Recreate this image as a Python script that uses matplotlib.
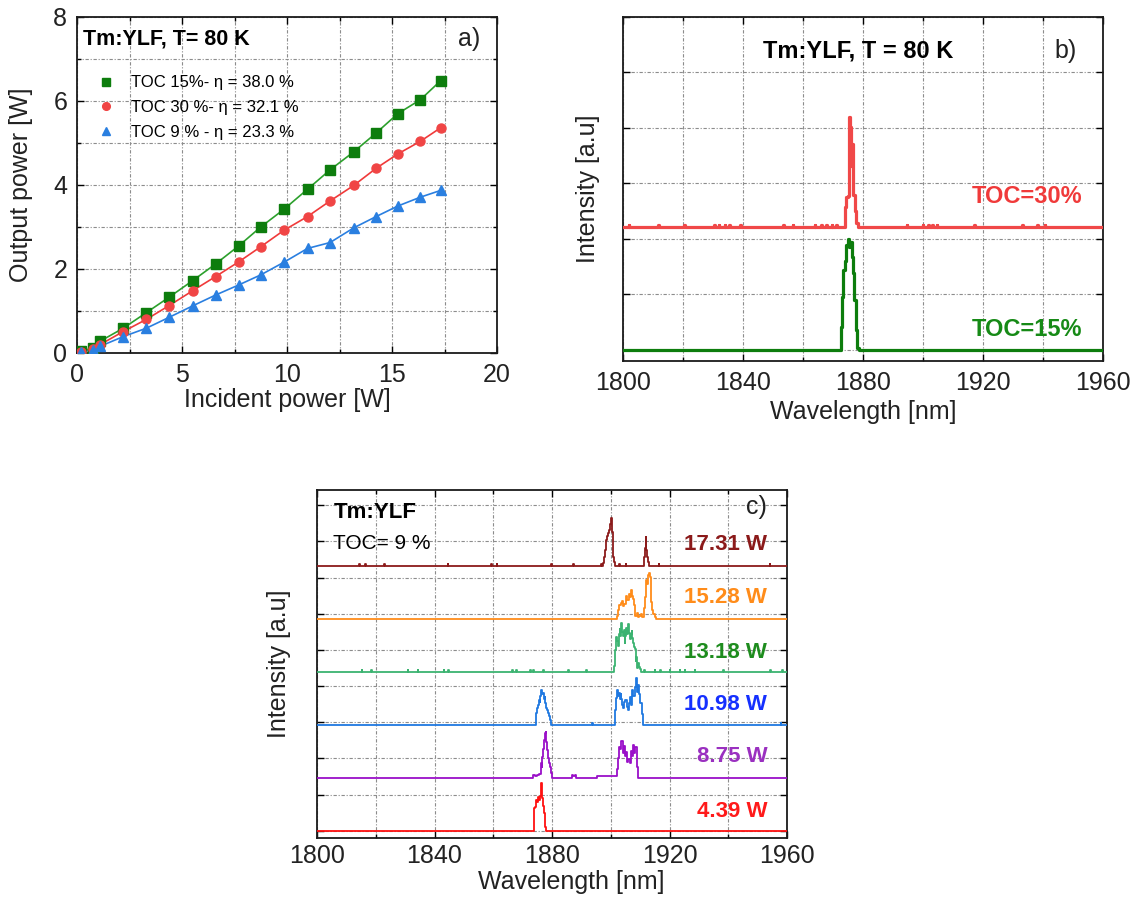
import matplotlib
matplotlib.use("Agg")
import matplotlib.pyplot as plt
from matplotlib.ticker import MultipleLocator, NullFormatter

plt.rcParams['font.family'] = ['Liberation Sans', 'DejaVu Sans']

# ---------------- a) output power vs incident power ----------------
p_incident = [0.2, 0.75, 1.1, 2.2, 3.3, 4.39, 5.5, 6.6, 7.7, 8.75, 9.85, 10.98,
              12.05, 13.18, 14.25, 15.28, 16.35, 17.31]
p_out_toc15 = [0.04, 0.12, 0.28, 0.59, 0.96, 1.33, 1.72, 2.12, 2.55, 3.00, 3.42,
               3.90, 4.36, 4.79, 5.24, 5.70, 6.03, 6.48]
p_out_toc30 = [0.02, 0.10, 0.20, 0.51, 0.80, 1.13, 1.48, 1.82, 2.17, 2.53, 2.92,
               3.25, 3.62, 3.99, 4.40, 4.74, 5.04, 5.36]
p_out_toc9 = [0.02, 0.08, 0.16, 0.39, 0.59, 0.85, 1.12, 1.38, 1.62, 1.86, 2.16,
              2.49, 2.63, 2.98, 3.25, 3.50, 3.71, 3.87]
legend_a = ["TOC 15%- η = 38.0 %", "TOC 30 %- η = 32.1 %", "TOC 9 % - η = 23.3 %"]

# ---------------- b) spectra at 80 K (wavelength nm, relative intensity) ----------------
b_labels = ["TOC=30%", "TOC=15%"]
b_offsets = [2.22, 0.0]
b_wl_toc30 = [1873.7, 1874.1, 1874.6, 1875.1, 1875.5, 1875.9, 1876.3, 1876.6,
              1877.0, 1877.5, 1878.0, 1878.4]
b_int_toc30 = [0, 0.36, 0.54, 0.55, 1.98, 1.80, 1.10, 1.50, 0.58, 0.28, 0.06, 0]
b_wl_toc15 = [1872.3, 1872.7, 1873.2, 1873.7, 1874.2, 1874.7, 1875.2, 1875.6,
              1876.0, 1876.4, 1876.8, 1877.3, 1877.8, 1878.3, 1878.7]
b_int_toc15 = [0, 0.42, 0.96, 1.44, 1.60, 1.89, 2.00, 1.86, 1.95, 1.68, 1.38,
               0.90, 0.36, 0.03, 0]
b_blips_toc30 = [1802.0, 1811.8, 1820.5, 1830.5, 1832.0, 1834.0, 1835.5, 1839.2,
                 1853.5, 1856.6, 1864.0, 1866.2, 1867.9, 1869.6, 1871.2, 1894.7,
                 1900.0, 1901.8, 1903.2, 1904.6, 1917.1, 1933.2, 1938.2, 1940.7]

# ---------------- c) spectra for TOC 9 % at several pump powers ----------------
c_labels = ["17.31 W", "15.28 W", "13.18 W", "10.98 W", "8.75 W", "4.39 W"]
c_offsets = [7.32, 5.86, 4.39, 2.93, 1.46, 0.0]

c_wl_1731 = [1897.2, 1897.5, 1897.8, 1898.1, 1898.4, 1898.7, 1899.0, 1899.3, 1899.6,
             1899.9, 1900.2, 1900.5, 1900.7, 1901.0, 1901.3, 1901.7,
             1911.1, 1911.4, 1911.7, 1912.0, 1912.3, 1912.6, 1912.9, 1913.3]
c_int_1731 = [0, 0.07, 0.25, 0.44, 0.60, 0.72, 0.82, 0.90, 1.00, 1.15, 1.32, 0.95,
              0.72, 0.26, 0.12, 0,
              0, 0.26, 0.50, 0.79, 0.45, 0.25, 0.12, 0]

c_wl_1528 = [1901.9, 1902.2, 1902.7, 1903.1, 1903.6, 1904.05, 1904.5, 1904.85, 1905.4,
             1905.9, 1906.3, 1906.7, 1907.1, 1907.5, 1907.7, 1908.0, 1908.6, 1909.0,
             1909.4, 1910.0, 1910.5, 1911.0, 1911.4, 1911.7, 1912.0, 1912.2, 1912.5,
             1912.8, 1913.1, 1913.4, 1913.7, 1913.9, 1914.3, 1914.7, 1915.1, 1915.5]
c_int_1528 = [0, 0.09, 0.25, 0.37, 0.45, 0.50, 0.35, 0.41, 0.64, 0.52, 0.69, 0.60,
              0.80, 0.62, 0.55, 0.37, 0.09, 0.15, 0.05, 0.08, 0.14, 0.05, 0.30, 0.60,
              0.85, 1.06, 0.95, 1.20, 1.26, 1.15, 0.75, 0.46, 0.25, 0.14, 0.05, 0]

c_wl_1318 = [1901.1, 1901.45, 1901.75, 1902.0, 1902.3, 1902.6, 1902.9, 1903.15, 1903.45,
             1903.7, 1904.0, 1904.3, 1904.6, 1904.85, 1905.1, 1905.4, 1905.7, 1906.0,
             1906.3, 1906.55, 1906.8, 1907.0, 1907.2, 1907.45, 1907.7, 1908.0, 1908.3,
             1908.6, 1908.8, 1909.05, 1909.4, 1909.7, 1910.0, 1910.5]
c_int_1318 = [0, 0.17, 0.60, 0.98, 0.85, 0.72, 1.05, 1.18, 1.00, 1.34, 1.10, 0.99,
              1.15, 0.81, 1.00, 1.22, 1.05, 1.32, 1.09, 0.95, 0.90, 1.05, 1.13, 0.95,
              0.80, 0.70, 0.63, 0.30, 0.40, 0.12, 0.26, 0.15, 0.07, 0]

c_wl_1098 = [1874.5, 1874.8, 1875.1, 1875.4, 1875.65, 1875.9, 1876.2, 1876.5, 1876.8,
             1877.1, 1877.35, 1877.6, 1877.8, 1878.0, 1878.2, 1878.5, 1878.75, 1879.0,
             1879.3, 1879.7,
             1901.2, 1901.5, 1901.9, 1902.25, 1902.6, 1902.9, 1903.2, 1903.5, 1903.8,
             1904.1, 1904.4, 1904.8, 1905.2, 1905.6, 1906.0, 1906.4, 1906.8, 1907.1,
             1907.5, 1907.9, 1908.3, 1908.7, 1909.1, 1909.5, 1909.9, 1910.3, 1910.7,
             1911.1]
c_int_1098 = [0, 0.32, 0.45, 0.55, 0.69, 0.62, 0.80, 0.97, 0.85, 0.88, 0.70, 0.78,
              0.60, 0.60, 0.46, 0.40, 0.33, 0.25, 0.14, 0,
              0, 0.40, 0.75, 0.97, 0.80, 0.88, 0.72, 0.85, 0.70, 0.55, 0.45, 0.62,
              0.68, 0.48, 0.41, 0.60, 0.78, 0.55, 0.95, 0.80, 1.05, 1.29, 0.90, 1.10,
              0.85, 0.60, 0.30, 0]

c_wl_875 = [1873.3, 1873.6, 1874.5, 1875.4, 1876.0, 1876.3, 1876.6, 1876.9, 1877.2,
            1877.5, 1877.75, 1878.0, 1878.25, 1878.5, 1878.8, 1879.1, 1879.4, 1879.7,
            1880.0,
            1886.5, 1886.9, 1887.5, 1888.0, 1888.6,
            1901.8, 1902.2, 1902.6, 1903.0, 1903.4, 1903.8, 1904.2, 1904.6, 1905.0,
            1905.4, 1905.8, 1906.2, 1906.6, 1907.0, 1907.4, 1907.8, 1908.2, 1908.6,
            1909.0, 1909.4]
c_int_875 = [0, 0.07, 0.06, 0.08, 0.10, 0.40, 0.30, 0.59, 0.80, 1.05, 1.24, 1.28,
             1.00, 0.78, 0.55, 0.40, 0.30, 0.15, 0,
             0, 0.08, 0.05, 0.08, 0,
             0.05, 0.25, 0.55, 0.85, 0.80, 1.01, 0.70, 0.88, 0.60, 0.72, 0.45, 0.52,
             0.40, 0.75, 0.62, 0.90, 0.70, 0.85, 0.30, 0]

c_wl_439 = [1873.7, 1874.0, 1874.4, 1874.8, 1875.1, 1875.5, 1875.8, 1876.1, 1876.3,
            1876.6, 1876.9, 1877.2, 1877.5, 1877.8, 1878.2]
c_int_439 = [0, 0.62, 0.66, 0.85, 0.80, 0.92, 0.86, 0.95, 1.32, 0.96, 0.90, 0.68,
             0.50, 0.10, 0]

c_blips_1731 = [1814.5, 1816.4, 1823.0, 1844.6, 1859.3, 1861.3, 1879.8, 1887.2,
                1896.8, 1903.1, 1905.2, 1916.4, 1954.2]
c_blips_1318 = [1815.3, 1818.6, 1831.0, 1834.4, 1843.2, 1844.7, 1866.5, 1868.0,
                1872.8, 1873.6, 1877.1, 1885.6, 1891.8, 1911.6, 1915.1, 1917.0,
                1920.2, 1923.6, 1925.3, 1928.7, 1938.3, 1954.5, 1958.5]
c_blips_1098 = [1893.9, 1958.0]

# ---------------- styling ----------------
GRID = dict(color='#8c8c8c', linestyle=(0, (3, 1.6, 1, 1.6)), linewidth=0.8)
TICK_COLOR = '#222222'


def style_axes(ax, pad):
    for s in ax.spines.values():
        s.set_linewidth(1.3)
        s.set_color('#1a1a1a')
    ax.tick_params(which='both', direction='in', top=True, right=True,
                   labelsize=18, labelcolor=TICK_COLOR, pad=pad, width=1.0)
    ax.tick_params(which='major', length=5)
    ax.tick_params(which='minor', length=3)
    ax.grid(True, which='both', **GRID)
    ax.set_axisbelow(True)


def spectrum(wl, inten, blips, height=0.05, half=0.25):
    pts = list(zip(wl, inten))
    for w in blips:
        pts += [(w - half, 0.0), (w, height), (w + half, 0.0)]
    pts += [(1800.0, 0.0), (1960.0, 0.0)]
    pts.sort(key=lambda p: p[0])
    return [p[0] for p in pts], [p[1] for p in pts]


fig = plt.figure(figsize=(11.45, 9.02), dpi=100)

# ---------- panel a ----------
ax_a = fig.add_axes([77 / 1145, 1 - 353 / 902, 420 / 1145, 336 / 902])
series_a = [
    (p_out_toc15, 's', '#0d7d0d', '#2ca02c'),
    (p_out_toc30, 'o', '#f04545', '#f03a3a'),
    (p_out_toc9, '^', '#2a7fe0', '#2a7fe0'),
]
for (vals, mk, mcol, lcol), lab in zip(series_a, legend_a):
    ax_a.plot(p_incident, vals, '-', color=lcol, lw=1.2, zorder=3)
    ax_a.plot(p_incident, vals, mk, color=mcol, ms=6.5, mec=mcol, zorder=4, label=lab)
ax_a.set_xlim(0, 20)
ax_a.set_ylim(0, 8)
ax_a.xaxis.set_major_locator(MultipleLocator(5))
ax_a.xaxis.set_minor_locator(MultipleLocator(2.5))
ax_a.yaxis.set_major_locator(MultipleLocator(2))
ax_a.yaxis.set_minor_locator(MultipleLocator(1))
style_axes(ax_a, 7)
ax_a.set_xlabel("Incident power [W]", fontsize=18, color=TICK_COLOR, labelpad=1)
ax_a.set_ylabel("Output power [W]", fontsize=18, color=TICK_COLOR)
ax_a.yaxis.set_label_coords(-0.105, 0.5)
ax_a.text(0.015, 0.935, "Tm:YLF, T= 80 K", transform=ax_a.transAxes, fontsize=15.5,
          fontweight='bold', ha='left', va='center')
ax_a.text(0.96, 0.935, "a)", transform=ax_a.transAxes, fontsize=18, ha='right',
          va='center', color=TICK_COLOR)
leg = ax_a.legend(loc='upper left', bbox_to_anchor=(0.05, 0.826), frameon=False,
                  fontsize=12, handlelength=1.0, handletextpad=1.0, borderpad=0,
                  borderaxespad=0, labelspacing=0.58, markerscale=0.85)

# ---------- panel b ----------
ax_b = fig.add_axes([623 / 1145, 1 - 361 / 902, 480 / 1145, 344 / 902])
b_series = [(b_wl_toc30, b_int_toc30, b_blips_toc30, '#f04848', '#f03a3a'),
            (b_wl_toc15, b_int_toc15, [], '#0d7d0d', '#168a16')]
label_b_y = [2.77, 0.36]
for (wl, it, bl, col, tcol), off, lab, ly in zip(b_series, b_offsets, b_labels, label_b_y):
    x, y = spectrum(wl, it, bl, height=0.04, half=0.2)
    ax_b.plot(x, [v + off for v in y], color=col, lw=2.3, drawstyle='steps-mid',
              zorder=3)
    ax_b.text(0.957, (ly + 0.2) / 6.2, lab, transform=ax_b.transAxes, fontsize=17,
              fontweight='bold', color=tcol, ha='right', va='center')
ax_b.set_xlim(1800, 1960)
ax_b.set_ylim(-0.2, 6.0)
ax_b.xaxis.set_major_locator(MultipleLocator(40))
ax_b.xaxis.set_minor_locator(MultipleLocator(20))
ax_b.yaxis.set_major_locator(MultipleLocator(1))
ax_b.yaxis.set_major_formatter(NullFormatter())
style_axes(ax_b, 7)
ax_b.set_xlabel("Wavelength [nm]", fontsize=18, color=TICK_COLOR)
ax_b.set_ylabel("Intensity [a.u]", fontsize=18, color=TICK_COLOR)
ax_b.xaxis.set_label_coords(0.5, -0.113)
ax_b.yaxis.set_label_coords(-0.048, 0.5)
ax_b.text(0.49, 0.9, "Tm:YLF, T = 80 K", transform=ax_b.transAxes, fontsize=17,
          fontweight='bold', ha='center', va='center')
ax_b.text(0.945, 0.9, "b)", transform=ax_b.transAxes, fontsize=18, ha='right',
          va='center', color=TICK_COLOR)

# ---------- panel c ----------
ax_c = fig.add_axes([317 / 1145, 1 - 838 / 902, 470 / 1145, 348 / 902])
c_series = [
    (c_wl_1731, c_int_1731, c_blips_1731, '#8b1a1a', '#8b1a1a'),
    (c_wl_1528, c_int_1528, [], '#ff8c1a', '#ff8c1a'),
    (c_wl_1318, c_int_1318, c_blips_1318, '#3cb371', '#1e8c1e'),
    (c_wl_1098, c_int_1098, c_blips_1098, '#1f78e0', '#1530ff'),
    (c_wl_875, c_int_875, [], '#9a0fc8', '#9a30c0'),
    (c_wl_439, c_int_439, [], '#ff1010', '#ff1a1a'),
]
label_y = [7.90, 6.46, 4.94, 3.48, 2.04, 0.52]
for (wl, it, bl, col, tcol), off, lab, ly in zip(c_series, c_offsets, c_labels, label_y):
    x, y = spectrum(wl, it, bl, height=0.05, half=0.25)
    ax_c.plot(x, [v + off for v in y], color=col, lw=1.3, drawstyle='steps-mid',
              zorder=3)
    ax_c.text(0.958, (ly + 0.2) / 9.62, lab, transform=ax_c.transAxes, fontsize=16,
              fontweight='bold', color=tcol, ha='right', va='center')
ax_c.set_xlim(1800, 1960)
ax_c.set_ylim(-0.2, 9.42)
ax_c.xaxis.set_major_locator(MultipleLocator(40))
ax_c.xaxis.set_minor_locator(MultipleLocator(20))
ax_c.yaxis.set_major_locator(MultipleLocator(1))
ax_c.yaxis.set_major_formatter(NullFormatter())
style_axes(ax_c, 4)
ax_c.set_xlabel("Wavelength [nm]", fontsize=18, color=TICK_COLOR)
ax_c.set_ylabel("Intensity [a.u]", fontsize=18, color=TICK_COLOR)
ax_c.xaxis.set_label_coords(0.54, -0.092)
ax_c.yaxis.set_label_coords(-0.055, 0.5)
ax_c.text(0.035, 0.935, "Tm:YLF", transform=ax_c.transAxes, fontsize=16,
          fontweight='bold', ha='left', va='center')
ax_c.text(0.035, 0.845, "TOC= 9 %", transform=ax_c.transAxes, fontsize=15,
          ha='left', va='center')
ax_c.text(0.958, 0.95, "c)", transform=ax_c.transAxes, fontsize=18, ha='right',
          va='center', color=TICK_COLOR)

fig.savefig("out.png", dpi=100)
